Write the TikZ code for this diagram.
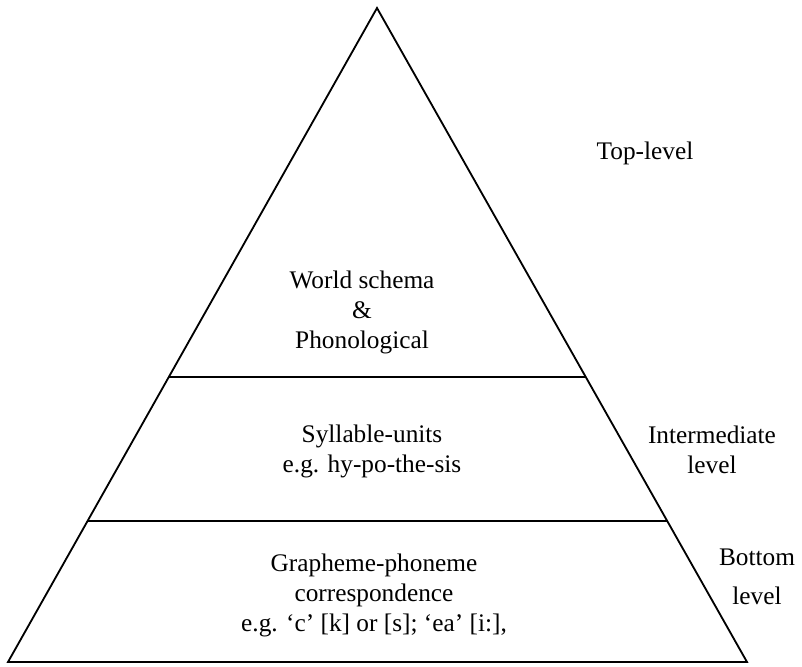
\documentclass[tikz,border=0pt]{standalone}
\usepackage{fontspec}
\setmainfont{Liberation Serif}
\usetikzlibrary{calc}
\begin{document}
\begin{tikzpicture}[x=0.025cm, y=-0.025cm,
pyramid/.style={black, line width=1.3pt, line join=miter},
tier text/.style={align=center, font=\fontsize{18}{21.3}\selectfont, inner sep=0pt},
side text/.style={align=center, font=\fontsize{18}{21.3}\selectfont, inner sep=0pt},
]
\useasboundingbox (0,0) rectangle (802,666);

%Pyramid
\coordinate (apex) at (377, 8);
\coordinate (left) at (8, 662);
\coordinate (right) at (747, 662);
\draw[pyramid] (apex) -- (left) -- (right) -- cycle;

%Level lines
\coordinate (upper left) at ($(apex)!0.5642!(left)$);
\coordinate (upper right) at ($(apex)!0.5642!(right)$);
\coordinate (lower left) at ($(apex)!0.7844!(left)$);
\coordinate (lower right) at ($(apex)!0.7844!(right)$);
\draw[pyramid] (upper left) -- (upper right);
\draw[pyramid] (lower left) -- (lower right);

%Inside the pyramid
\node[tier text] (top tier) at (362, 312) {World schema\\\&\\Phonological};
\node[tier text] (middle tier) at (372, 451) {Syllable-units\\e.g. hy-po-the-sis};
\node[tier text] (bottom tier) at (374, 595) {Grapheme-phoneme\\correspondence\\e.g. ‘c’ [k] or [s]; ‘ea’ [i:],};

%Side labels
\node[side text] (top side) at (645, 153) {Top-level};
\node[side text] (middle side) at (712, 450) {Intermediate\\level};
\node[side text] (bottom side) at (757, 577) {Bottom\\[0.225cm]level};
\end{tikzpicture}
\end{document}
